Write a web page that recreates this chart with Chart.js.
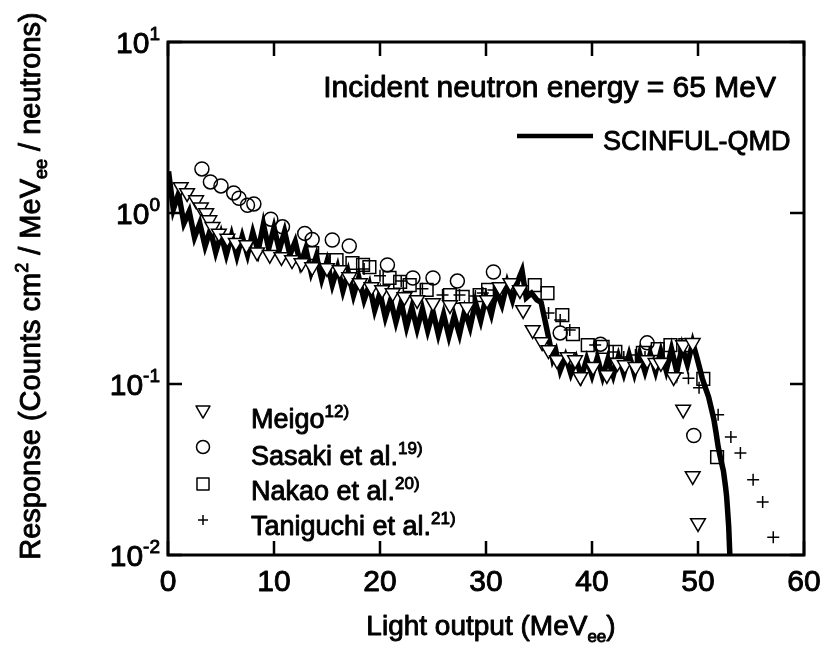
<!DOCTYPE html>
<html>
<head>
<meta charset="utf-8">
<script src="https://cdn.jsdelivr.net/npm/chart.js@4/dist/chart.umd.min.js"></script>
<style>
  html, body { margin: 0; padding: 0; background: #fff; }
</style>
</head>
<body>
<canvas id="chart" width="825" height="653"></canvas>
<script>
// SCINFUL-QMD calculation (light output MeVee, response)
const scinfulX = [0.05,0.5,1.0,1.5,2.0,2.5,3.0,3.5,4.0,4.5,5.0,5.5,6.0,6.5,7.0,7.5,8.0,8.5,9.0,9.5,10.0,10.5,11.0,11.5,12.0,12.5,13.0,13.5,14.0,14.5,15.0,15.5,16.0,16.5,17.0,17.5,18.0,18.5,19.0,19.5,20.0,20.5,21.0,21.5,22.0,22.5,23.0,23.5,24.0,24.5,25.0,25.5,26.0,26.5,27.0,27.5,28.0,28.5,29.0,29.5,30.0,30.5,31.0,31.5,32.0,32.5,33.0,33.4,33.8,34.3,34.8,35.2,35.6,36.0,36.3,36.6,37.0,37.5,38.0,38.5,39.0,39.5,40.0,40.5,41.0,41.5,42.0,42.5,43.0,43.5,44.0,44.5,45.0,45.5,46.0,46.5,47.0,47.5,48.0,48.5,49.0,49.5,49.8,50.0,50.4,50.7,51.0,51.3,51.5,51.7,51.9,52.2,52.4,52.6,52.7,52.8,52.9,53.0,53.1];
const scinfulY = [1.75,1.05,1.3,0.87,1.02,0.72,0.87,0.64,0.8,0.59,0.75,0.57,0.74,0.56,0.73,0.57,0.77,0.6,0.86,0.62,0.82,0.61,0.78,0.57,0.68,0.5,0.62,0.45,0.56,0.41,0.52,0.38,0.48,0.35,0.45,0.33,0.42,0.31,0.38,0.27,0.34,0.245,0.31,0.23,0.3,0.215,0.28,0.21,0.275,0.205,0.265,0.195,0.255,0.19,0.25,0.195,0.27,0.215,0.3,0.235,0.32,0.255,0.35,0.29,0.39,0.31,0.4,0.46,0.32,0.34,0.31,0.3,0.23,0.175,0.14,0.155,0.12,0.145,0.115,0.14,0.11,0.14,0.112,0.142,0.11,0.14,0.112,0.145,0.115,0.148,0.115,0.15,0.118,0.15,0.118,0.155,0.12,0.16,0.118,0.165,0.13,0.175,0.15,0.135,0.108,0.095,0.084,0.07,0.062,0.052,0.043,0.035,0.031,0.025,0.022,0.018,0.0145,0.0101,0.008];

// measurements
const meigoX = [1.2,1.8,2.65,3.1,3.6,3.9,4.2,4.8,5.6,6.4,7.4,8.4,9.6,10.7,11.7,12.6,13.6,15.0,16.2,17.1,18.1,19.2,20.2,21.2,22.3,23.5,25.0,26.6,28.2,30.1,31.3,32.3,33.2,33.5,34.4,35.3,35.9,36.7,37.7,38.4,38.9,40.1,41.4,42.4,43.1,44.1,45.2,46.0,46.5,47.7,48.6,48.6,49.5,49.5,50.0];
const meigoY = [1.42,1.31,1.19,1.08,1.0,0.91,0.83,0.76,0.71,0.67,0.65,0.59,0.57,0.553,0.531,0.51,0.483,0.477,0.464,0.422,0.39,0.369,0.355,0.34,0.323,0.31,0.298,0.29,0.282,0.31,0.369,0.39,0.355,0.271,0.207,0.176,0.158,0.138,0.144,0.138,0.11,0.126,0.113,0.133,0.129,0.126,0.138,0.133,0.133,0.11,0.169,0.071,0.174,0.029,0.0154];

const sasakiX = [3.2,4.0,5.0,6.2,6.7,7.5,8.1,9.7,10.8,12.9,13.6,15.5,17.1,20.7,23.1,25.0,27.3,30.7,37.0,40.8,45.2,49.6];
const sasakiY = [1.81,1.52,1.44,1.31,1.22,1.11,1.13,0.92,0.83,0.76,0.70,0.695,0.641,0.497,0.417,0.417,0.40,0.452,0.199,0.171,0.174,0.050];

const nakaoX = [13.6,14.6,15.9,17.4,18.4,19.0,20.9,21.9,22.8,24.4,26.6,27.8,29.4,30.2,34.6,35.8,37.2,38.2,39.6,41.0,42.2,44.8,46.2,47.4,48.8,50.5,51.8];
const nakaoY = [0.583,0.531,0.531,0.51,0.497,0.483,0.417,0.395,0.379,0.355,0.331,0.323,0.331,0.355,0.379,0.34,0.253,0.196,0.169,0.165,0.154,0.152,0.16,0.169,0.169,0.107,0.0374];

const taniguchiX = [18.5,20.0,22.0,24.0,25.9,27.5,29.0,29.7,30.7,35.9,37.0,37.9,40.3,42.0,43.0,44.1,45.0,48.1,49.1,50.1,51.9,53.1,54.0,55.2,56.1,57.1];
const taniguchiY = [0.47,0.43,0.40,0.36,0.331,0.331,0.327,0.34,0.355,0.26,0.237,0.207,0.169,0.154,0.144,0.148,0.144,0.116,0.108,0.095,0.066,0.049,0.0395,0.0275,0.0204,0.0127];

const xTicks = [0, 10, 20, 30, 40, 50, 60];
const yTicks = [10, 1, 0.1, 0.01];
const yTickExp = ['1', '0', '-1', '-2'];

const FONT = "'Liberation Sans', Arial, sans-serif";

function pts(xs, ys) {
  return xs.map((x, i) => ({ x: x, y: ys[i] }));
}

// text with super/subscripts: parts = [[text, 'sup'|'sub'|null], ...]
function richWidth(ctx, parts, size) {
  let w = 0;
  parts.forEach(([t, k]) => {
    ctx.font = (k ? Math.round(size * 0.62) : size) + 'px ' + FONT;
    w += ctx.measureText(t).width;
  });
  return w;
}
function drawRich(ctx, parts, x, y, size) {
  ctx.textAlign = 'left';
  ctx.textBaseline = 'alphabetic';
  ctx.lineWidth = 0.9;
  ctx.lineJoin = 'round';
  parts.forEach(([t, k]) => {
    let dy = 0;
    if (k === 'sup') dy = -size * 0.42;
    if (k === 'sub') dy = size * 0.25;
    ctx.font = (k ? Math.round(size * 0.62) : size) + 'px ' + FONT;
    ctx.fillText(t, x, y + dy);
    ctx.strokeText(t, x, y + dy);
    x += ctx.measureText(t).width;
  });
}

const decorations = {
  id: 'decorations',
  afterDraw(chart) {
    const ctx = chart.ctx;
    const a = chart.chartArea;
    const xs = chart.scales.x, ys = chart.scales.y;
    ctx.save();
    ctx.fillStyle = '#000';
    ctx.strokeStyle = '#000';

    // frame
    ctx.lineWidth = 3;
    ctx.strokeRect(a.left, a.top, a.right - a.left, a.bottom - a.top);

    // inward ticks + labels
    const tl = 14;
    xTicks.forEach(v => {
      const px = xs.getPixelForValue(v);
      ctx.lineWidth = 2.5;
      ctx.beginPath();
      ctx.moveTo(px, a.bottom); ctx.lineTo(px, a.bottom - tl);
      ctx.moveTo(px, a.top); ctx.lineTo(px, a.top + tl);
      ctx.stroke();
      const parts = [[String(v), null]];
      drawRich(ctx, parts, px - richWidth(ctx, parts, 30) / 2, 591, 30);
    });
    yTicks.forEach((v, i) => {
      const py = ys.getPixelForValue(v);
      ctx.lineWidth = 2.5;
      ctx.beginPath();
      ctx.moveTo(a.left, py); ctx.lineTo(a.left + tl, py);
      ctx.moveTo(a.right, py); ctx.lineTo(a.right - tl, py);
      ctx.stroke();
      const parts = [['10', null], [yTickExp[i], 'sup']];
      const w = richWidth(ctx, parts, 30);
      drawRich(ctx, parts, 160 - w, py + 11, 30);
    });

    // axis titles
    const xt = [['Light output (MeV', null], ['ee', 'sub'], [')', null]];
    drawRich(ctx, xt, 491 - richWidth(ctx, xt, 28) / 2, 635, 28);

    const yt = [['Response (Counts cm', null], ['2', 'sup'], [' / MeV', null], ['ee', 'sub'], [' / neutrons)', null]];
    ctx.save();
    ctx.translate(40, 286);
    ctx.rotate(-Math.PI / 2);
    drawRich(ctx, yt, -richWidth(ctx, yt, 29) / 2, 0, 29);
    ctx.restore();

    // annotation
    const ann = [['Incident neutron energy = 65 MeV', null]];
    drawRich(ctx, ann, 776 - richWidth(ctx, ann, 30), 97, 30);

    // SCINFUL-QMD key
    ctx.lineWidth = 4.5;
    ctx.beginPath();
    ctx.moveTo(517, 136); ctx.lineTo(593, 136);
    ctx.stroke();
    drawRich(ctx, [['SCINFUL-QMD', null]], 603, 150, 27);

    // experiment key
    const keys = [
      { style: 'triangle', rot: 180, r: 8, fill: '#fff', y: 410, base: 428, parts: [['Meigo', null], ['12)', 'sup']] },
      { style: 'circle', rot: 0, r: 6.5, fill: 'rgba(0,0,0,0)', y: 447, base: 465, parts: [['Sasaki et al.', null], ['19)', 'sup']] },
      { style: 'rect', rot: 0, r: 8.5, fill: 'rgba(0,0,0,0)', y: 484, base: 500, parts: [['Nakao et al.', null], ['20)', 'sup']] },
      { style: 'cross', rot: 0, r: 5, fill: 'rgba(0,0,0,0)', y: 520, base: 535, parts: [['Taniguchi et al.', null], ['21)', 'sup']] }
    ];
    keys.forEach(k => {
      ctx.fillStyle = k.fill;
      ctx.strokeStyle = '#000';
      ctx.lineWidth = 1.5;
      Chart.helpers.drawPoint(ctx, { pointStyle: k.style, rotation: k.rot, radius: k.r, borderWidth: 1.5 }, 203, k.y);
      ctx.fillStyle = '#000';
      drawRich(ctx, k.parts, 251, k.base, 27);
    });
    ctx.restore();
  }
};

new Chart(document.getElementById('chart'), {
  type: 'scatter',
  data: {
    datasets: [
      {
        label: 'SCINFUL-QMD',
        data: pts(scinfulX, scinfulY),
        showLine: true,
        borderColor: '#000',
        borderWidth: 5.5,
        pointRadius: 0,
        order: 5
      },
      {
        label: 'Meigo',
        data: pts(meigoX, meigoY),
        pointStyle: 'triangle',
        rotation: 180,
        pointRadius: 8.5,
        backgroundColor: '#fff',
        borderColor: '#000',
        borderWidth: 1.5,
        order: 1
      },
      {
        label: 'Sasaki et al.',
        data: pts(sasakiX, sasakiY),
        pointStyle: 'circle',
        pointRadius: 7,
        backgroundColor: 'rgba(0,0,0,0)',
        borderColor: '#000',
        borderWidth: 1.5,
        order: 2
      },
      {
        label: 'Nakao et al.',
        data: pts(nakaoX, nakaoY),
        pointStyle: 'rect',
        pointRadius: 9,
        backgroundColor: 'rgba(0,0,0,0)',
        borderColor: '#000',
        borderWidth: 1.5,
        order: 3
      },
      {
        label: 'Taniguchi et al.',
        data: pts(taniguchiX, taniguchiY),
        pointStyle: 'cross',
        pointRadius: 6,
        borderColor: '#000',
        borderWidth: 1.5,
        order: 4
      }
    ]
  },
  options: {
    responsive: false,
    animation: false,
    layout: { padding: { left: 0, right: 21, top: 42, bottom: 0 } },
    plugins: {
      legend: { display: false },
      tooltip: { enabled: false }
    },
    scales: {
      x: {
        type: 'linear',
        min: 0,
        max: 60,
        grid: { display: false, drawTicks: false },
        border: { display: false },
        ticks: { display: false, stepSize: 10 },
        afterFit: s => { s.height = 98; }
      },
      y: {
        type: 'logarithmic',
        min: 0.01,
        max: 10,
        grid: { display: false, drawTicks: false },
        border: { display: false },
        ticks: { display: false },
        afterBuildTicks: s => { s.ticks = yTicks.map(v => ({ value: v })); },
        afterFit: s => { s.width = 168; }
      }
    }
  },
  plugins: [decorations]
});
</script>
</body>
</html>
